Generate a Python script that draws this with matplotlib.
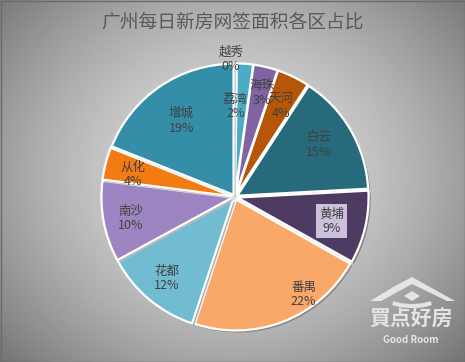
import numpy as np
import matplotlib.pyplot as plt
import matplotlib.patheffects as pe
from matplotlib.patches import Polygon, Arc

plt.rcParams['font.family'] = ['Noto Sans CJK SC', 'DejaVu Sans']

districts = ['越秀', '荔湾', '海珠', '天河', '白云', '黄埔', '番禺', '花都', '南沙', '从化', '增城']
shares = [0.2, 2, 3, 4, 15, 9, 22, 12, 10, 4, 19]
colors = ['#4F81BD', '#4BACC6', '#8064A2', '#B65708', '#276A7C', '#4D3B62',
          '#F9A86A', '#71BCD0', '#9C85C0', '#F27B14', '#358EA8']
# label placement: radial fraction and angular nudge (deg, clockwise)
label_r = [1.05, 0.69, 0.82, 0.78, 0.75, 0.76, 0.91, 0.81, 0.81, 0.80, 0.71]
label_shift = [-2, -4, 1, 1, -2, 1, -14, 0, -1, -2, -1]

W, H = 465, 362
fig = plt.figure(figsize=(W / 100, H / 100), dpi=100)

# background: radial grey gradient
bg = fig.add_axes([0, 0, 1, 1])
yy, xx = np.mgrid[0:H, 0:W]
d = np.sqrt(((xx - 232) / 300.0) ** 2 + ((yy - 175) / 260.0) ** 2)
shade = np.clip(0.87 - 0.38 * d ** 1.6, 0, 1)
bg.imshow(shade, cmap='gray', vmin=0, vmax=1, extent=[0, W, H, 0], aspect='auto')
bg.set_xlim(0, W)
bg.set_ylim(H, 0)
bg.axis('off')
bg.add_patch(plt.Rectangle((0.5, 0.5), W - 1, H - 1, fill=False, ec='#6b6b6b', lw=1))

# watermark
wm = '#e4e4e4'
roof = Polygon([[370, 301], [395, 286], [412, 277], [455, 301], [447, 301], [412, 284], [381, 301]],
               closed=True, fc=wm, ec='none')
bg.add_patch(roof)
bg.add_patch(Polygon([[404, 296], [412, 291], [420, 296], [412, 301]], closed=True, fc=wm, ec='none'))
bg.add_patch(Arc((412, 296), 54, 20, theta1=20, theta2=160, ec=wm, lw=3))
bg.text(411, 319, '買点好房', ha='center', va='center', fontsize=15, fontweight='bold', color=wm)
bg.text(411, 340, 'Good Room', ha='center', va='center', fontsize=7, fontweight='bold', color=wm)

fig.text(0.5, 1 - 22 / H, '广州每日新房网签面积各区占比', ha='center', va='center',
         fontsize=13.5, color='#595959')

# pie axes: center (235, 197) px, radius 131 px
cx, cy, R = 235, 197, 131
lim = 1.3
side = 2 * lim * R
ax = fig.add_axes([(cx - side / 2) / W, (H - cy - side / 2) / H, side / W, side / H])
ax.set_aspect('equal')
ax.axis('off')

explode = [0.02] * len(shares)
wedges, _ = ax.pie(shares, colors=colors, startangle=90, counterclock=False, explode=explode,
                   wedgeprops=dict(edgecolor='white', linewidth=1.6), radius=1.0)
for w in wedges:
    w.set_path_effects([pe.SimplePatchShadow(offset=(1.5, -1.5), alpha=0.35), pe.Normal()])
ax.set_xlim(-lim, lim)
ax.set_ylim(-lim, lim)

total = sum(shares)
cum = 0
for name, v, r, sh in zip(districts, shares, label_r, label_shift):
    mid = (cum + v / 2) / total * 360 + sh
    cum += v
    a = np.deg2rad(90 - mid)
    x, y = r * np.cos(a), r * np.sin(a)
    box = None
    if name == '黄埔':
        box = dict(boxstyle='square,pad=0.25', fc='#CCC1DA', ec='none')
    ax.text(x, y, f'{name}\n{round(v)}%', ha='center', va='center', fontsize=9,
            color='#404040', linespacing=1.15, bbox=box)

fig.savefig('out.png', dpi=100)
